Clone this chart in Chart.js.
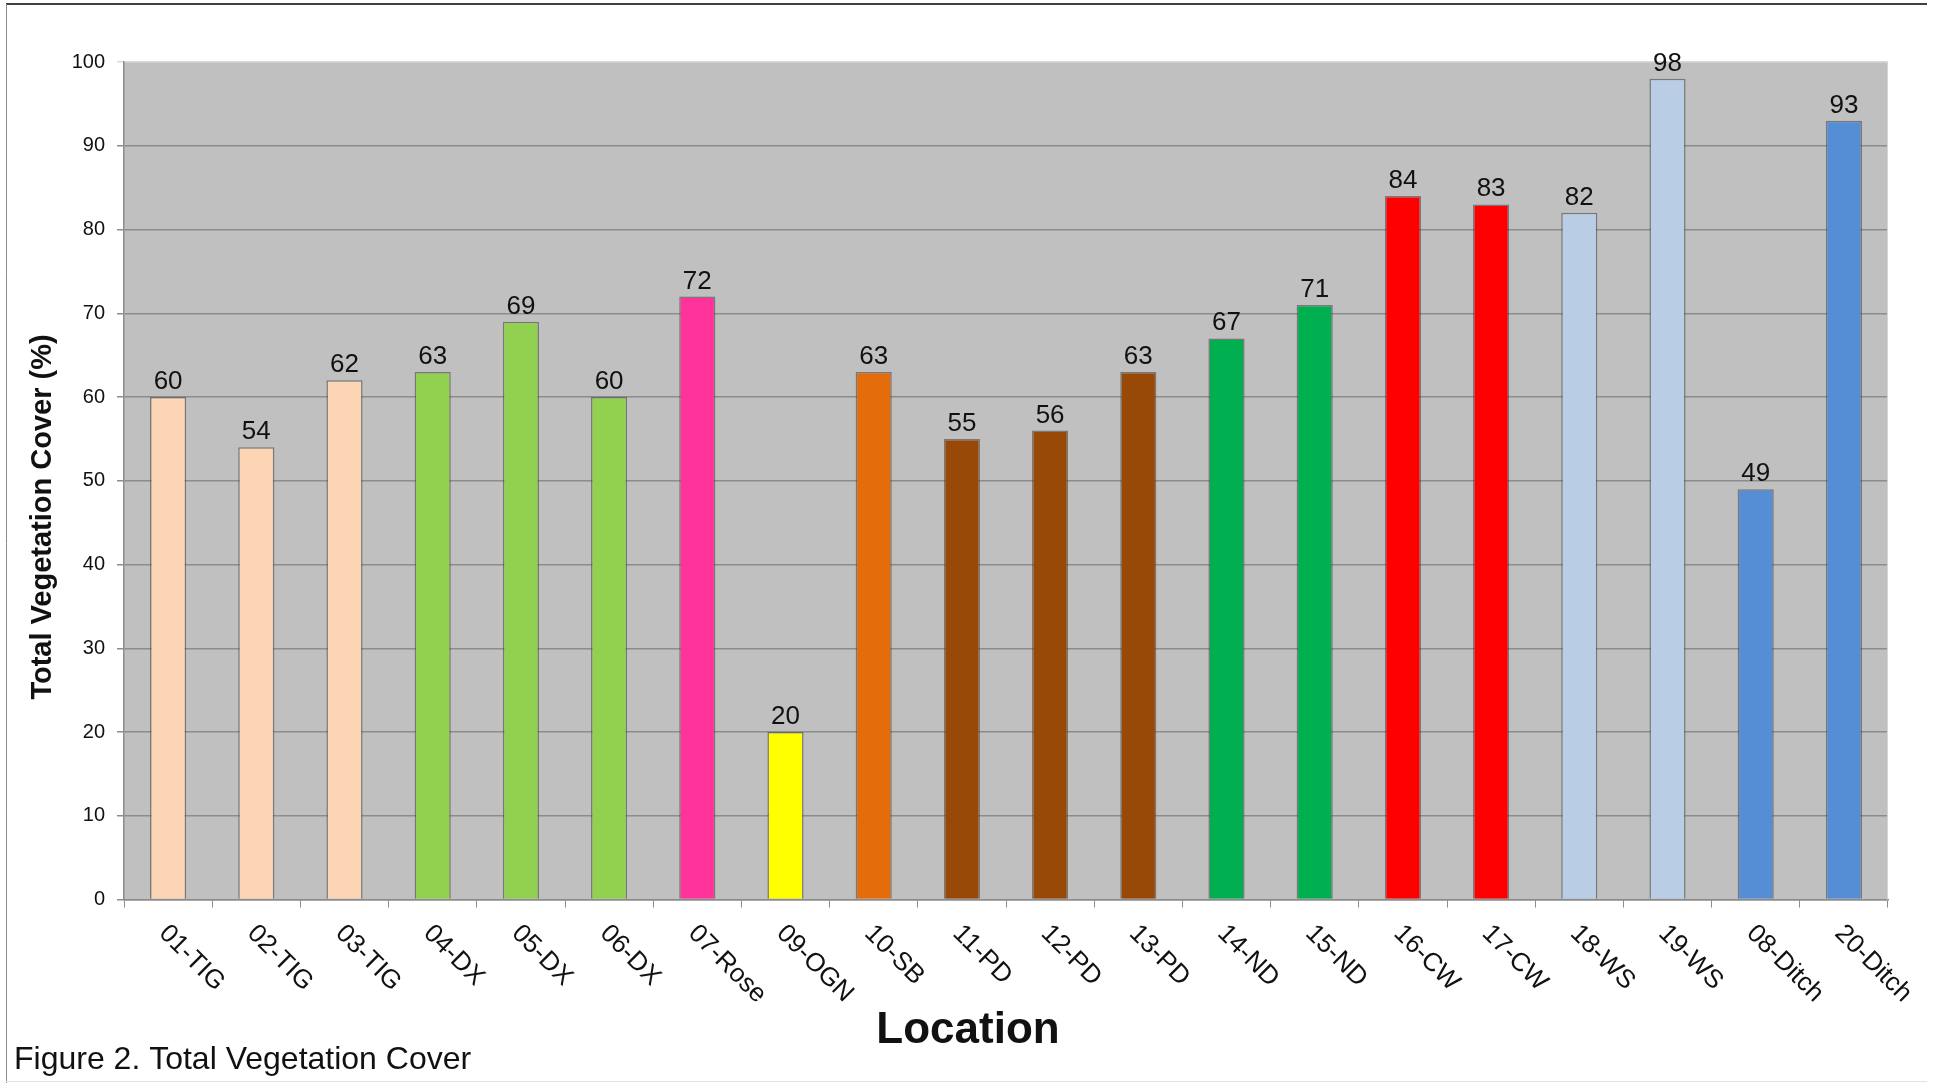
<!DOCTYPE html>
<html>
<head>
<meta charset="utf-8">
<title>Figure 2. Total Vegetation Cover</title>
<script src="https://cdn.jsdelivr.net/npm/chart.js@4/dist/chart.umd.min.js"></script>
<style>
  html, body { margin: 0; padding: 0; background: #ffffff; }
  #wrap { width: 1937px; height: 1083px; position: relative; }
</style>
</head>
<body>
<div id="wrap"><canvas id="chart" width="1937" height="1083"></canvas></div>
<script>
// Survey locations along the x axis
const locations = [
  '01-TIG', '02-TIG', '03-TIG', '04-DX', '05-DX', '06-DX', '07-Rose',
  '09-OGN', '10-SB', '11-PD', '12-PD', '13-PD', '14-ND', '15-ND',
  '16-CW', '17-CW', '18-WS', '19-WS', '08-Ditch', '20-Ditch'
];

// Total vegetation cover (%) at each location
const coverPct = [60, 54, 62, 63, 69, 60, 72, 20, 63, 55, 56, 63, 67, 71, 84, 83, 82, 98, 49, 93];

// Fill colour per location (grouped by habitat type)
const barColors = [
  '#FCD5B5', '#FCD5B5', '#FCD5B5',
  '#92D050', '#92D050', '#92D050',
  '#FF3399',
  '#FFFF00',
  '#E46C0A',
  '#984807', '#984807', '#984807',
  '#00B050', '#00B050',
  '#FF0000', '#FF0000',
  '#B9CDE5', '#B9CDE5',
  '#558ED5', '#558ED5'
];

const yTicks = [0, 10, 20, 30, 40, 50, 60, 70, 80, 90, 100];

const yTitle = 'Total Vegetation Cover (%)';
const xTitle = 'Location';
const caption = 'Figure 2. Total Vegetation Cover';

const FONT = '"Liberation Sans", Arial, Helvetica, sans-serif';

// Grey plot background, page frame, value labels, slanted category labels and titles
const decorations = {
  id: 'decorations',
  beforeDraw(chart) {
    const { ctx, chartArea: a } = chart;
    ctx.save();
    ctx.fillStyle = '#ffffff';
    ctx.fillRect(0, 0, chart.width, chart.height);
    ctx.fillStyle = '#C0C0C0';
    ctx.fillRect(a.left, a.top, a.right - a.left, a.bottom - a.top);
    ctx.restore();
  },
  afterDraw(chart) {
    const { ctx, chartArea: a } = chart;
    const xs = chart.scales.x;
    const meta = chart.getDatasetMeta(0);
    ctx.save();

    // light right edge of the plot area
    ctx.strokeStyle = '#d4d4d4';
    ctx.lineWidth = 1;
    ctx.beginPath();
    ctx.moveTo(Math.round(a.right) - 0.5, a.top);
    ctx.lineTo(Math.round(a.right) - 0.5, a.bottom);
    ctx.stroke();

    // value labels above the bars
    ctx.fillStyle = '#111111';
    ctx.font = '26px ' + FONT;
    ctx.textAlign = 'center';
    ctx.textBaseline = 'alphabetic';
    meta.data.forEach((bar, i) => {
      ctx.fillText(String(coverPct[i]), bar.x, bar.y - 8);
    });

    // category labels, slanted 45 degrees downwards
    ctx.font = '26px ' + FONT;
    ctx.textAlign = 'left';
    locations.forEach((name, i) => {
      const cx = xs.getPixelForValue(i);
      ctx.save();
      ctx.translate(cx + 3, a.bottom + 22);
      ctx.rotate(Math.PI / 4);
      ctx.fillText(name, 0, 18.5);
      ctx.restore();
    });

    // axis titles
    ctx.font = 'bold 29px ' + FONT;
    ctx.textAlign = 'center';
    ctx.textBaseline = 'middle';
    ctx.save();
    ctx.translate(43, 517);
    ctx.rotate(-Math.PI / 2);
    ctx.fillText(yTitle, 0, 0);
    ctx.restore();

    ctx.font = 'bold 44px ' + FONT;
    ctx.textBaseline = 'alphabetic';
    ctx.fillText(xTitle, 968, 1043);

    // caption
    ctx.font = '32px ' + FONT;
    ctx.textAlign = 'left';
    ctx.fillText(caption, 14, 1069);

    // page frame
    ctx.strokeStyle = '#404040';
    ctx.lineWidth = 2;
    ctx.beginPath();
    ctx.moveTo(6, 4);
    ctx.lineTo(1927, 4);
    ctx.stroke();
    ctx.strokeStyle = '#8a8a8a';
    ctx.lineWidth = 1;
    ctx.beginPath();
    ctx.moveTo(6.5, 4);
    ctx.lineTo(6.5, 1083);
    ctx.stroke();
    ctx.strokeStyle = '#e2e2e2';
    ctx.beginPath();
    ctx.moveTo(6, 1081.5);
    ctx.lineTo(1927, 1081.5);
    ctx.stroke();

    ctx.restore();
  }
};

new Chart(document.getElementById('chart'), {
  type: 'bar',
  data: {
    labels: locations,
    datasets: [{
      data: coverPct,
      backgroundColor: barColors,
      borderColor: 'rgba(60,60,60,0.55)',
      borderWidth: 1.5,
      barPercentage: 0.41,
      categoryPercentage: 1.0
    }]
  },
  options: {
    responsive: false,
    animation: false,
    devicePixelRatio: 1,
    layout: { padding: { left: 0, top: 62, right: 49, bottom: 0 } },
    plugins: {
      legend: { display: false },
      tooltip: { enabled: false },
      title: { display: false }
    },
    scales: {
      x: {
        ticks: { display: false },
        grid: {
          offset: true,
          drawOnChartArea: false,
          drawTicks: true,
          tickLength: 8,
          tickColor: '#8c8c8c',
          color: '#8c8c8c'
        },
        border: { display: true, color: '#8c8c8c', width: 1.5 },
        afterFit(scale) { scale.height = 1083 - 899.5; }
      },
      y: {
        min: 0,
        max: 100,
        afterBuildTicks(scale) { scale.ticks = yTicks.map(v => ({ value: v })); },
        ticks: {
          color: '#111111',
          font: { family: FONT, size: 20 },
          padding: 12
        },
        grid: {
          color: ctx => (ctx.tick && ctx.tick.value === 100 ? '#dadada' : '#8c8c8c'),
          tickColor: ctx => (ctx.tick && ctx.tick.value === 100 ? '#dadada' : '#8c8c8c'),
          lineWidth: 1.5,
          tickLength: 7,
          drawTicks: true
        },
        border: { display: true, color: '#8c8c8c', width: 1.5 },
        afterFit(scale) { scale.width = 124; }
      }
    }
  },
  plugins: [decorations]
});
</script>
</body>
</html>
